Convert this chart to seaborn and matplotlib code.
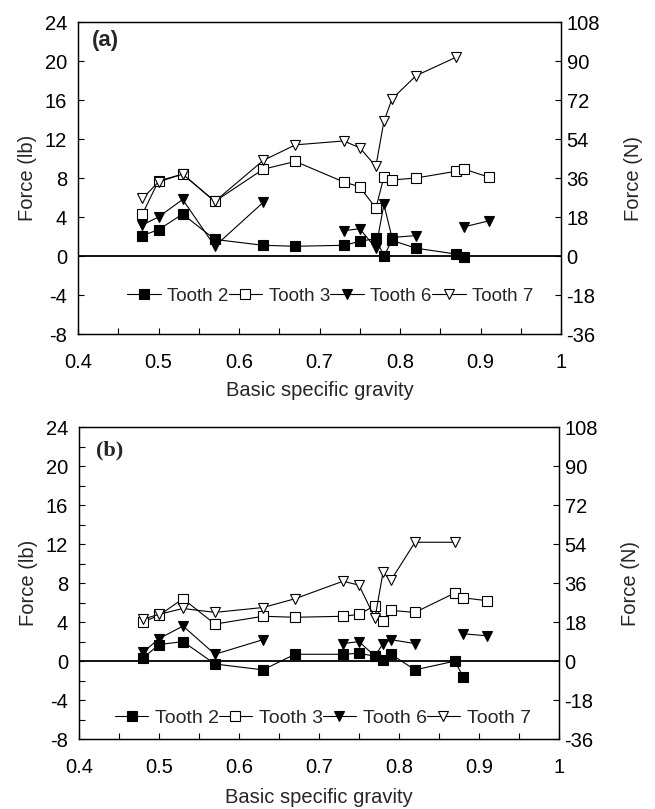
import numpy as np
import pandas as pd
import matplotlib
matplotlib.use("Agg")
import matplotlib.pyplot as plt
from matplotlib.lines import Line2D
from matplotlib.ticker import MultipleLocator, FuncFormatter
import seaborn as sns

# ---------------- data ----------------
sg = [0.48, 0.50, 0.53, 0.57, 0.63, 0.67, 0.73, 0.75, 0.77, 0.78, 0.79, 0.82, 0.87, 0.88, 0.91]
nan = np.nan

a_tooth2 = [2.1, 2.7, 4.3, 1.7, 1.1, 1.0, 1.1, 1.5, 1.8, 0.0, 1.6, 0.8, 0.2, -0.1, nan]
a_tooth3 = [4.3, 7.7, 8.4, 5.6, 8.9, 9.7, 7.6, 7.1, 4.9, 8.1, 7.8, 8.0, 8.7, 8.9, 8.1]
a_tooth6 = [3.2, 4.0, 5.8, 1.0, 5.5, nan, 2.6, 2.8, 0.8, 5.3, 1.9, 2.1, nan, 3.0, 3.6]
a_tooth7 = [5.9, 7.6, 8.4, 5.6, 9.8, 11.4, 11.8, 11.1, 9.2, 13.8, 16.1, 18.5, 20.4, nan, nan]

b_tooth2 = [0.3, 1.7, 2.0, -0.3, -0.9, 0.7, 0.7, 0.8, 0.5, 0.1, 0.7, -0.9, 0.0, -1.6, nan]
b_tooth3 = [4.0, 4.7, 6.4, 3.8, 4.6, 4.5, 4.6, 4.8, 5.7, 4.1, 5.2, 5.0, 7.0, 6.5, 6.2]
b_tooth6 = [0.9, 2.3, 3.6, 0.7, 2.2, nan, 1.8, 2.0, 0.5, 1.8, 2.2, 1.8, nan, 2.8, 2.6]
b_tooth7 = [4.3, 4.8, 5.4, 5.0, 5.5, 6.4, 8.2, 7.8, 4.4, 9.1, 8.3, 12.2, 12.2, nan, nan]

series_names = ["Tooth 2", "Tooth 3", "Tooth 6", "Tooth 7"]
xticks = [0.4, 0.5, 0.6, 0.7, 0.8, 0.9, 1.0]
lb_ticks = [-8, -4, 0, 4, 8, 12, 16, 20, 24]
n_ticks = [-36, -18, 0, 18, 36, 54, 72, 90, 108]

# ---------------- style ----------------
sns.set_theme(style="ticks")
plt.rcParams["font.family"] = ["Liberation Sans", "DejaVu Sans"]
plt.rcParams["axes.unicode_minus"] = False
plt.rcParams["axes.linewidth"] = 0.9

styles = [("s", "black"), ("s", "white"), ("v", "black"), ("v", "white")]
TICK_FS = 14.5

fig = plt.figure(figsize=(6.55, 8.09), dpi=100)
ax_a = fig.add_axes([0.1191, 0.5871, 0.7374, 0.3857])
ax_b = fig.add_axes([0.1206, 0.0865, 0.7328, 0.3853])


def draw_series(ax, yvals, marker, face):
    df = pd.DataFrame({"x": sg, "y": yvals})
    df["seg"] = df["y"].isna().cumsum()
    df = df.dropna()
    sns.lineplot(data=df, x="x", y="y", units="seg", estimator=None, ax=ax,
                 color="black", lw=0.8, marker=marker, markersize=7.5,
                 markerfacecolor=face, markeredgecolor="black",
                 markeredgewidth=0.8, legend=False, zorder=3)


def setup(ax, data, panel, panel_font, panel_pos, leg_fs, leg_anchor, handlelen,
          minor_y, xlab_y):
    ax.axhline(0, color="black", lw=1.3, zorder=2)
    for yv, (m, f) in zip(data, styles):
        draw_series(ax, yv, m, f)
    ax.set_xlim(0.4, 1.0)
    ax.set_ylim(-8, 24)
    ax.set_xticks(xticks)
    ax.xaxis.set_major_formatter(FuncFormatter(lambda v, p: f"{v:g}"))
    ax.xaxis.set_minor_locator(MultipleLocator(0.05))
    ax.set_yticks(lb_ticks)
    if minor_y:
        ax.yaxis.set_minor_locator(MultipleLocator(2))
    ax.tick_params(axis="both", which="both", direction="in", length=4,
                   width=0.8, labelsize=TICK_FS, colors="black")
    ax.tick_params(axis="x", which="major", pad=14)
    ax.tick_params(axis="y", which="major", pad=8)
    ax.set_xlabel("Basic specific gravity", fontsize=TICK_FS)
    ax.set_ylabel("Force (lb)", fontsize=TICK_FS)
    ax.xaxis.set_label_coords(0.5, xlab_y)
    ax.yaxis.set_label_coords(-0.085, 0.5)
    for s in ax.spines.values():
        s.set_visible(True)
        s.set_color("black")
        s.set_linewidth(0.9)

    tw = ax.twinx()
    tw.set_ylim(-36, 108)
    tw.set_yticks(n_ticks)
    tw.tick_params(axis="y", direction="in", length=4, width=0.8,
                   labelsize=TICK_FS, pad=4, colors="black")
    tw.set_ylabel("Force (N)", fontsize=TICK_FS)
    tw.yaxis.set_label_coords(1.13, 0.5)
    for s in tw.spines.values():
        s.set_color("black")
        s.set_linewidth(0.9)
    tw.grid(False)
    ax.grid(False)

    ax.text(panel_pos[0], panel_pos[1], panel, transform=ax.transAxes,
            ha="left", va="top", fontsize=16, fontweight="bold",
            fontfamily=panel_font)

    handles = [Line2D([], [], color="black", lw=0.8, marker=m, markersize=7.5,
                      markerfacecolor=f, markeredgecolor="black",
                      markeredgewidth=0.8) for m, f in styles]
    ax.legend(handles, series_names, ncol=4, frameon=False, loc="center",
              bbox_to_anchor=leg_anchor, fontsize=leg_fs,
              handlelength=handlelen, handletextpad=0.35, columnspacing=0.0,
              borderaxespad=0)


setup(ax_a, [a_tooth2, a_tooth3, a_tooth6, a_tooth7], "(a)",
      "Liberation Sans", (0.028, 0.975), 13.5, (0.522, 0.121), 1.8, False, -0.152)
setup(ax_b, [b_tooth2, b_tooth3, b_tooth6, b_tooth7], "(b)",
      "Liberation Serif", (0.036, 0.957), 14, (0.508, 0.067), 1.7, True, -0.157)

fig.savefig("out.png", dpi=100)
